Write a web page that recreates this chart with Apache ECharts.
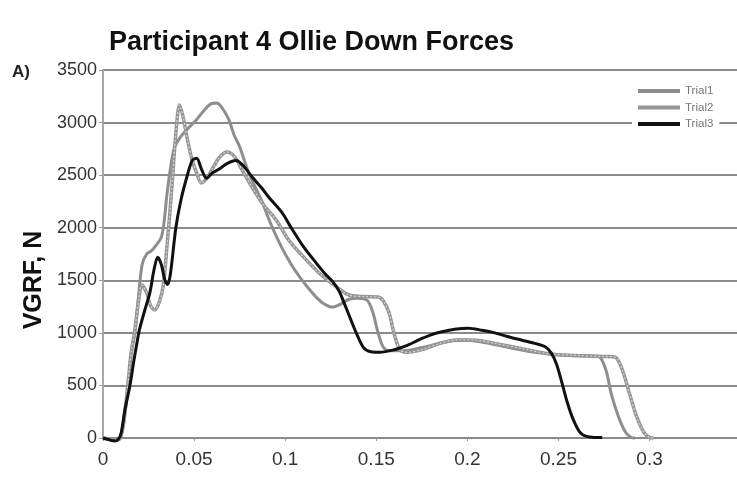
<!DOCTYPE html>
<html>
<head>
<meta charset="utf-8">
<script src="https://cdn.jsdelivr.net/npm/echarts@6/dist/echarts.min.js"></script>
<style>
  html, body { margin: 0; padding: 0; background: #fff; }
  #chart { width: 737px; height: 481px; }
</style>
</head>
<body>
<div id="chart"></div>
<script>
// Vertical ground reaction force (N) against time (s) for three ollie landings.
const seriesNames = ['Trial1', 'Trial2', 'Trial3'];
const yTicks = [0, 500, 1000, 1500, 2000, 2500, 3000, 3500];

const trial1 = [
  [0, 0], [0.004, -10], [0.007, -20], [0.0095, 0], [0.0115, 150], [0.0135, 450], [0.0155, 800],
  [0.0175, 1000], [0.0195, 1350], [0.0215, 1650], [0.024, 1750], [0.0265, 1780], [0.029, 1830], [0.032, 1910],
  [0.0335, 2050], [0.035, 2300], [0.037, 2560], [0.039, 2750], [0.042, 2850], [0.0464, 2940],
  [0.051, 3020], [0.0557, 3120], [0.0595, 3180], [0.0623, 3186], [0.065, 3150], [0.069, 3030],
  [0.072, 2880], [0.075, 2770], [0.080, 2520], [0.087, 2260], [0.092, 2040], [0.098, 1815],
  [0.103, 1660], [0.108, 1530], [0.113, 1420], [0.117, 1340], [0.121, 1280], [0.126, 1245],
  [0.130, 1270], [0.135, 1320], [0.140, 1330], [0.145, 1310], [0.148, 1200], [0.151, 1000],
  [0.154, 860], [0.158, 830], [0.165, 830], [0.175, 860], [0.190, 920], [0.200, 930],
  [0.210, 905], [0.220, 870], [0.235, 820], [0.250, 790], [0.265, 780], [0.272, 775],
  [0.276, 650], [0.279, 420], [0.283, 200], [0.287, 50], [0.290, 5], [0.292, 0]
];

const trial2 = [
  [0, 0], [0.004, -10], [0.007, -15], [0.0095, 0], [0.0115, 180], [0.0135, 480], [0.0155, 820],
  [0.0175, 1030], [0.0195, 1300], [0.0213, 1455], [0.024, 1380], [0.026, 1260], [0.0284, 1217], [0.031, 1300],
  [0.033, 1440], [0.035, 1800], [0.0377, 2360], [0.040, 2900], [0.042, 3167], [0.044, 3050],
  [0.0464, 2834], [0.049, 2640], [0.0514, 2520], [0.054, 2425], [0.057, 2470], [0.060, 2560],
  [0.064, 2670], [0.068, 2720], [0.072, 2680], [0.076, 2560], [0.082, 2380], [0.088, 2220],
  [0.095, 2075], [0.102, 1880], [0.108, 1760], [0.1186, 1570], [0.128, 1440], [0.135, 1360],
  [0.143, 1345], [0.151, 1340], [0.154, 1300], [0.157, 1190], [0.160, 980], [0.163, 840],
  [0.167, 815], [0.175, 840], [0.185, 900], [0.195, 935], [0.205, 930], [0.215, 900],
  [0.230, 850], [0.245, 800], [0.260, 785], [0.275, 775], [0.281, 770], [0.285, 650],
  [0.289, 420], [0.293, 200], [0.297, 50], [0.300, 5], [0.302, 0]
];

const trial3 = [
  [0, 0], [0.003, -15], [0.0066, -28], [0.0085, -10], [0.010, 50], [0.012, 266], [0.0148, 500],
  [0.0168, 720], [0.0186, 900], [0.020, 1030], [0.023, 1220], [0.0257, 1380], [0.028, 1600], [0.030, 1720],
  [0.032, 1650], [0.034, 1500], [0.0355, 1460], [0.037, 1560], [0.040, 2000], [0.043, 2280],
  [0.046, 2480], [0.049, 2640], [0.0514, 2660], [0.054, 2560], [0.0568, 2470], [0.060, 2520],
  [0.064, 2560], [0.068, 2610], [0.073, 2640], [0.077, 2590], [0.082, 2480], [0.087, 2380],
  [0.091, 2290], [0.098, 2150], [0.104, 1980], [0.110, 1820], [0.117, 1665], [0.122, 1560],
  [0.126, 1490], [0.1295, 1400], [0.132, 1300], [0.135, 1170], [0.139, 1000], [0.143, 860],
  [0.147, 820], [0.152, 815], [0.160, 840], [0.167, 880], [0.173, 930], [0.180, 980],
  [0.186, 1010], [0.193, 1035], [0.2005, 1045], [0.208, 1025], [0.215, 1000], [0.222, 965],
  [0.230, 930], [0.237, 900], [0.2425, 870], [0.246, 810], [0.249, 700], [0.252, 520],
  [0.255, 330], [0.258, 180], [0.262, 50], [0.267, 10], [0.274, 5]
];

const chart = echarts.init(document.getElementById('chart'), null, { renderer: 'canvas' });
const FONT = '"Liberation Sans", Arial, sans-serif';

chart.setOption({
  animation: false,
  backgroundColor: '#fff',
  textStyle: { fontFamily: FONT },
  title: {
    text: 'Participant 4 Ollie Down Forces',
    left: 104,
    top: 24,
    textStyle: { fontSize: 27, fontWeight: 'bold', color: '#111', fontFamily: FONT }
  },
  graphic: [
    {
      type: 'text',
      left: 12,
      top: 64,
      style: { text: 'A)', fontSize: 17, fontWeight: 'bold', fill: '#222', fontFamily: FONT }
    },
    {
      // y-axis title, rotated to read bottom-to-top
      type: 'text',
      x: 34,
      y: 280,
      rotation: Math.PI / 2,
      style: {
        text: 'VGRF, N', fontSize: 25, fontWeight: 'bold', fill: '#111', fontFamily: FONT,
        align: 'center', verticalAlign: 'middle'
      }
    }
  ],
  legend: {
    data: seriesNames.map(n => ({ name: n, icon: 'rect' })),
    orient: 'vertical',
    left: 632,
    top: 83,
    itemWidth: 42,
    itemHeight: 4,
    itemGap: 4.5,
    padding: [2, 6, 2, 6],
    backgroundColor: '#fff',
    textStyle: { fontSize: 11.5, color: '#777', lineHeight: 12, fontFamily: FONT }
  },
  grid: {
    left: 103,
    right: 0,
    top: 70,
    bottom: 43,
    containLabel: false,
    outerBoundsMode: 'none'
  },
  xAxis: {
    type: 'value',
    min: 0,
    max: 0.348,
    interval: 0.05,
    axisLine: { show: false },
    axisTick: { show: true, length: 3, lineStyle: { color: '#999', width: 1 } },
    splitLine: { show: false },
    axisLabel: {
      showMaxLabel: false,
      margin: 12,
      fontSize: 19,
      color: '#333',
      fontFamily: FONT,
      formatter: v => String(Math.round(v * 100) / 100)
    }
  },
  yAxis: {
    type: 'value',
    min: yTicks[0],
    max: yTicks[yTicks.length - 1],
    interval: 500,
    axisLine: { show: true, lineStyle: { color: '#a8a8a8', width: 2 } },
    axisTick: { show: true, length: 4, lineStyle: { color: '#999', width: 1 } },
    axisLabel: {
      margin: 6, fontSize: 18, color: '#333', fontFamily: FONT,
      formatter: v => String(v)
    },
    splitLine: { show: true, lineStyle: { color: '#8a8a8a', width: 2 } }
  },
  series: [
    {
      name: 'Trial1', type: 'line', data: trial1, smooth: 0.3, showSymbol: false, clip: false,
      color: '#8e8e8e', lineStyle: { color: '#8e8e8e', width: 3 }, z: 2
    },
    {
      name: 'Trial2', type: 'line', data: trial2, smooth: 0.3, showSymbol: false, clip: false,
      color: '#959595', lineStyle: { color: '#959595', width: 3.5 }, z: 3
    },
    {
      // light dotted core that gives Trial2 its beaded look
      name: 'Trial2', type: 'line', data: trial2, smooth: 0.3, showSymbol: false, clip: false,
      color: '#959595', lineStyle: { color: '#d4d4d4', width: 1.2, type: [2, 2] }, z: 4
    },
    {
      name: 'Trial3', type: 'line', data: trial3, smooth: 0.3, showSymbol: false, clip: false,
      color: '#111', lineStyle: { color: '#111', width: 3 }, z: 5
    }
  ]
});
</script>
</body>
</html>
